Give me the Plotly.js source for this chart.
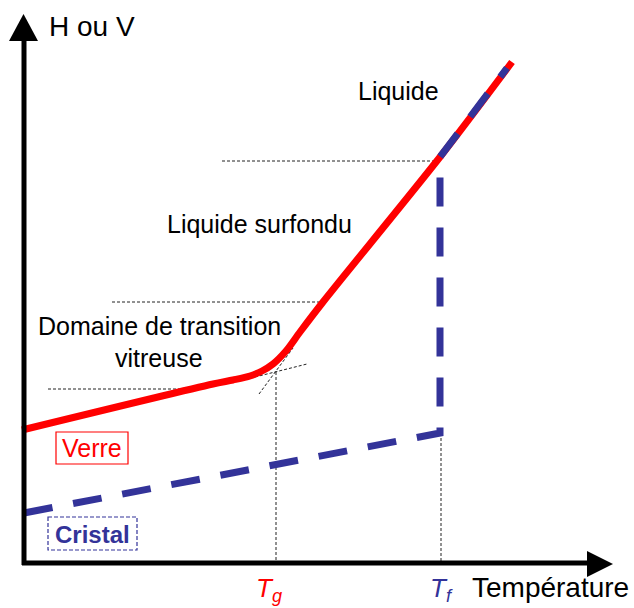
<!DOCTYPE html>
<html>
<head>
<meta charset="utf-8">
<script src="https://cdn.plot.ly/plotly-3.0.1.min.js"></script>
<style>html,body{margin:0;padding:0;background:#fff;}#chart{width:634px;height:608px;}</style>
</head>
<body>
<div id="chart"></div>
<script>
// Values (pixel-space schematic: x = temperature, y = H ou V, downward)
const verreX = [22, 213, 233, 250, 262, 273, 286, 300, 323, 440, 512];
const verreY = [430, 384, 380, 376, 371, 364, 351, 332, 302, 157, 62];

const cristalX = [24, 440, 440, 507];
const cristalY = [513, 433, 157, 68];

// dotted guide segments (null separates segments)
const guideX = [222, 437, null, 112, 320, null, 48, 180, null, 276, 276, null, 441, 441, null, 255, 307, null, 259, 293];
const guideY = [161, 161, null, 302, 302, null, 389, 389, null, 372, 563, null, 433, 563, null, 377, 364, null, 394, 348];

const labels = ["H ou V", "Liquide", "Liquide surfondu", "Domaine de transition", "vitreuse", "Verre", "Cristal", "Température"];

const FONT = "Liberation Sans, Arial, sans-serif";
const BLUE = "#333399";
const RED = "#ff0000";

const traces = [
  {x: guideX, y: guideY, mode: "lines", line: {color: "#222222", width: 1, dash: "3px,2px"}, hoverinfo: "skip", connectgaps: false},
  {x: verreX, y: verreY, mode: "lines", line: {color: RED, width: 7, shape: "spline", smoothing: 0.8}, hoverinfo: "skip"},
  {x: cristalX, y: cristalY, mode: "lines", line: {color: BLUE, width: 7, dash: "29px,21px"}, hoverinfo: "skip"}
];

const layout = {
  width: 634, height: 608,
  margin: {l: 0, r: 0, t: 0, b: 0},
  paper_bgcolor: "#ffffff", plot_bgcolor: "#ffffff",
  showlegend: false,
  xaxis: {range: [0, 634], visible: false, fixedrange: true},
  yaxis: {range: [608, 0], visible: false, fixedrange: true},
  shapes: [
    {type: "line", x0: 24, y0: 565, x1: 24, y1: 38, line: {color: "#000", width: 5}},
    {type: "path", path: "M 9,41 L 23.5,14 L 38,41 Z", fillcolor: "#000", line: {color: "#000", width: 0}},
    {type: "line", x0: 22, y0: 563, x1: 590, y1: 563, line: {color: "#000", width: 5}},
    {type: "path", path: "M 587,551 L 613,564 L 587,577 Z", fillcolor: "#000", line: {color: "#000", width: 0}},
    {type: "rect", x0: 56, x1: 128, y0: 432, y1: 464, line: {color: RED, width: 1.2}},
    {type: "rect", x0: 48, x1: 137, y0: 517, y1: 550, line: {color: BLUE, width: 1.2, dash: "4px,2px"}}
  ],
  annotations: [
    {x: 47, y: 26, text: labels[0], xanchor: "left", yanchor: "middle", showarrow: false, font: {family: FONT, size: 28, color: "#000"}},
    {x: 398, y: 91, text: labels[1], xanchor: "center", yanchor: "middle", showarrow: false, font: {family: FONT, size: 25, color: "#000"}},
    {x: 259, y: 224, text: labels[2], xanchor: "center", yanchor: "middle", showarrow: false, font: {family: FONT, size: 25, color: "#000"}},
    {x: 159, y: 326, text: labels[3], xanchor: "center", yanchor: "middle", showarrow: false, font: {family: FONT, size: 25, color: "#000"}},
    {x: 159, y: 358, text: labels[4], xanchor: "center", yanchor: "middle", showarrow: false, font: {family: FONT, size: 25, color: "#000"}},
    {x: 92, y: 448, text: labels[5], xanchor: "center", yanchor: "middle", showarrow: false, font: {family: FONT, size: 25, color: RED}},
    {x: 92, y: 534, text: "<b>" + labels[6] + "</b>", xanchor: "center", yanchor: "middle", showarrow: false, font: {family: FONT, size: 24, color: BLUE}},
    {x: 254, y: 589, text: "<i>T</i><sub><i>g</i></sub>", xanchor: "left", yanchor: "middle", showarrow: false, font: {family: FONT, size: 26, color: RED}},
    {x: 428, y: 589, text: "<i>T</i><sub><i>f</i></sub>", xanchor: "left", yanchor: "middle", showarrow: false, font: {family: FONT, size: 26, color: BLUE}},
    {x: 470, y: 587, text: labels[7], xanchor: "left", yanchor: "middle", showarrow: false, font: {family: FONT, size: 28, color: "#000"}}
  ]
};

Plotly.newPlot("chart", traces, layout, {displayModeBar: false, staticPlot: true});
</script>
</body>
</html>
